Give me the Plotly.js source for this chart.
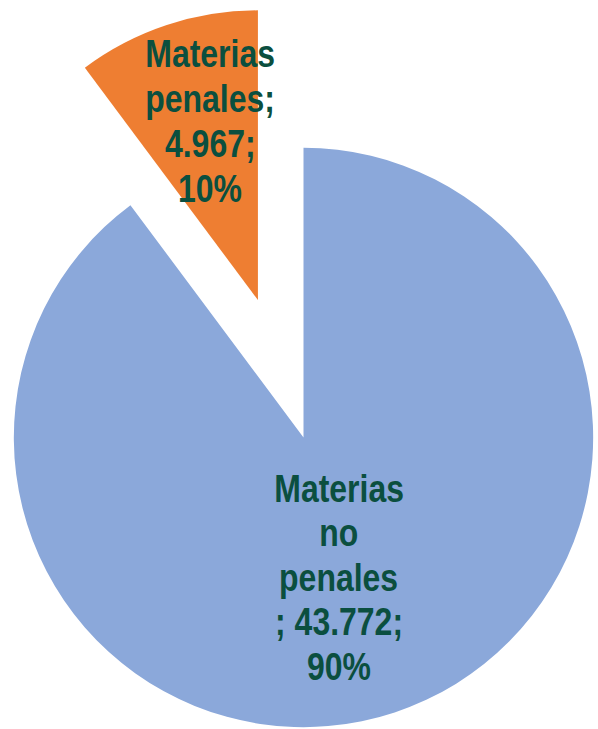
<!DOCTYPE html>
<html>
<head>
<meta charset="utf-8">
<script src="https://cdn.plot.ly/plotly-3.0.1.min.js"></script>
<style>
  html, body { margin: 0; padding: 0; width: 598px; height: 729px; overflow: hidden; background: #ffffff; }
  #chart { position: absolute; left: -131px; top: 3px; width: 869px; height: 869px; }
</style>
</head>
<body>
<div id="chart"></div>
<script>
// ---- data ----
var categories = ["Materias no penales", "Materias penales"];
var values = [43772, 4967];
var sliceColors = ["#8ba8da", "#ee7e32"];
var pulls = [0, 0.5];

// ---- helpers ----
function fmtThousands(n) {
  return String(n).replace(/\B(?=(\d{3})+(?!\d))/g, ".");
}
var total = values.reduce(function (a, b) { return a + b; }, 0);
function pct(v) { return Math.round(v / total * 100) + "%"; }

// label lines (Excel-style wrapping of "label; value; percent")
var labelLines = [
  categories[0].split(" ").concat(["; " + fmtThousands(values[0]) + ";", pct(values[0])]),
  (function () {
    var w = categories[1].split(" ");
    w[w.length - 1] = w[w.length - 1] + ";";
    return w.concat([fmtThousands(values[1]) + ";", pct(values[1])]);
  })()
];

// ---- layout geometry for labels (page pixels) ----
var W = 869, H = 869, offX = -131, offY = 3;
var labelAnchors = [ {x: 339, y: 502, dy: 44.5}, {x: 210, y: 67, dy: 45} ];
var fontSize = 39;
var textColor = "#0b4f3f";
var narrowScale = 0.82; // emulate a narrow (condensed) bold face

var annotations = [];
labelLines.forEach(function (lines, s) {
  var a = labelAnchors[s];
  lines.forEach(function (t, i) {
    var baseline = a.y + i * a.dy;
    var mid = baseline - 0.35 * fontSize;
    annotations.push({
      xref: "paper", yref: "paper",
      x: (a.x - offX) / W,
      y: 1 - (mid - offY) / H,
      xanchor: "center", yanchor: "middle",
      text: "<b>" + t + "</b>",
      showarrow: false,
      font: { family: "'Liberation Sans', Arial, sans-serif", size: fontSize, color: textColor }
    });
  });
});

var trace = {
  type: "pie",
  labels: categories,
  values: values,
  pull: pulls,
  sort: false,
  direction: "clockwise",
  rotation: 0,
  marker: { colors: sliceColors, line: { width: 0 } },
  textinfo: "none",
  hoverinfo: "none",
  showlegend: false,
  domain: { x: [0, 1], y: [0, 1] }
};

var layout = {
  width: W, height: H,
  margin: { l: 0, r: 0, t: 0, b: 0, pad: 0 },
  paper_bgcolor: "rgba(0,0,0,0)",
  plot_bgcolor: "rgba(0,0,0,0)",
  showlegend: false,
  annotations: annotations
};

Plotly.newPlot("chart", [trace], layout, { displayModeBar: false, staticPlot: true }).then(function (gd) {
  var texts = gd.querySelectorAll(".annotation-text");
  texts.forEach(function (el) {
    var bb = el.getBBox();
    var cx = bb.x + bb.width / 2;
    el.setAttribute("transform", "translate(" + cx + ",0) scale(" + narrowScale + ",1) translate(" + (-cx) + ",0)");
  });
});
</script>
</body>
</html>
